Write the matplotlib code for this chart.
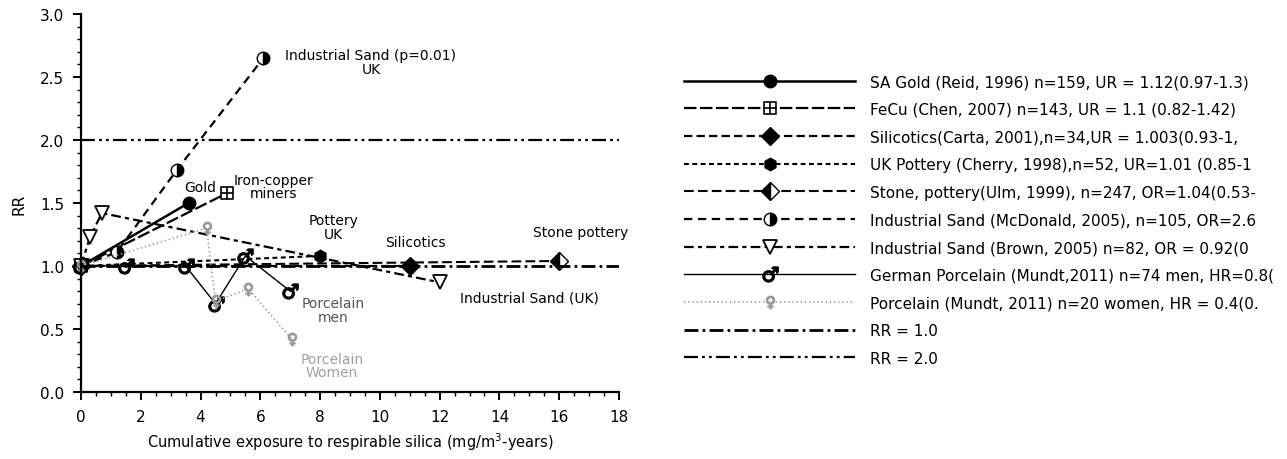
import matplotlib
matplotlib.use("Agg")
import matplotlib.pyplot as plt
from matplotlib.path import Path

plt.rcParams["font.family"] = ["DejaVu Sans"]
plt.rcParams["lines.scale_dashes"] = False

# Cumulative exposure (mg/m3-years) and relative risk for each cohort
gold_x = [0.0, 3.6]
gold_y = [1.0, 1.5]
fecu_x = [0.0, 4.9]
fecu_y = [1.0, 1.58]
silic_x = [0.0, 11.0]
silic_y = [1.0, 1.0]
pottery_x = [0.0, 8.0]
pottery_y = [1.0, 1.08]
stone_x = [0.0, 16.0]
stone_y = [1.0, 1.04]
mcd_x = [0.0, 1.2, 3.2, 6.1]
mcd_y = [1.0, 1.11, 1.76, 2.65]
brown_x = [0.0, 0.3, 0.7, 12.0]
brown_y = [1.0, 1.23, 1.42, 0.87]
men_x = [0.0, 1.5, 3.5, 4.5, 5.5, 7.0]
men_y = [1.0, 1.0, 1.0, 0.7, 1.08, 0.8]
women_x = [0.0, 4.2, 4.5, 5.6, 7.05]
women_y = [1.0, 1.3, 0.72, 0.82, 0.42]
rr_levels = [1.0, 2.0]

series_labels = [
    "SA Gold (Reid, 1996) n=159, UR = 1.12(0.97-1.3)",
    "FeCu (Chen, 2007) n=143, UR = 1.1 (0.82-1.42)",
    "Silicotics(Carta, 2001),n=34,UR = 1.003(0.93-1,",
    "UK Pottery (Cherry, 1998),n=52, UR=1.01 (0.85-1",
    "Stone, pottery(Ulm, 1999), n=247, OR=1.04(0.53-",
    "Industrial Sand (McDonald, 2005), n=105, OR=2.6",
    "Industrial Sand (Brown, 2005) n=82, OR = 0.92(0",
    "German Porcelain (Mundt,2011) n=74 men, HR=0.8(",
    "Porcelain (Mundt, 2011) n=20 women, HR = 0.4(0.",
    "RR = 1.0",
    "RR = 2.0",
]

x_ticks = [0, 2, 4, 6, 8, 10, 12, 14, 16, 18]
y_ticks = [0.0, 0.5, 1.0, 1.5, 2.0, 2.5, 3.0]

# square-with-cross marker
box_plus = Path(
    [(-1, -1), (1, -1), (1, 1), (-1, 1), (-1, -1),
     (0, -1), (0, 1), (-1, 0), (1, 0)],
    [Path.MOVETO, Path.LINETO, Path.LINETO, Path.LINETO, Path.CLOSEPOLY,
     Path.MOVETO, Path.LINETO, Path.MOVETO, Path.LINETO],
)

fig = plt.figure(figsize=(12.87, 4.60), dpi=100)
ax = fig.add_axes([81 / 1287, 1 - 393 / 460, 538 / 1287, 378 / 460])

common = dict(color="black", clip_on=False)
h = []
h += ax.plot(gold_x, gold_y, lw=1.8, marker="o", ms=9, mfc="black",
             label=series_labels[0], **common)
h += ax.plot(fecu_x, fecu_y, lw=1.6, ls=(0, (9, 2.5)), marker=box_plus,
             ms=9, mfc="white", mec="black", mew=1.2,
             label=series_labels[1], **common)
h += ax.plot(silic_x, silic_y, lw=1.6, ls=(0, (6, 3)), marker="D", ms=9,
             mfc="black", label=series_labels[2], **common)
h += ax.plot(pottery_x, pottery_y, lw=1.5, ls=(0, (3.5, 2.5)), marker="h",
             ms=9, mfc="black", label=series_labels[3], **common)
h += ax.plot(stone_x, stone_y, lw=1.5, ls=(0, (7, 3)), marker="D", ms=9,
             fillstyle="left", mfc="black", mfcalt="white", mec="black",
             label=series_labels[4], **common)
h += ax.plot(mcd_x, mcd_y, lw=1.6, ls=(0, (6, 4)), marker="o", ms=9,
             fillstyle="right", mfc="black", mfcalt="white", mec="black",
             label=series_labels[5], **common)
h += ax.plot(brown_x, brown_y, lw=1.6, ls=(0, (7, 3, 3, 3)), marker="v",
             ms=10, mfc="white", mec="black", mew=1.3,
             label=series_labels[6], **common)
h += ax.plot(men_x, men_y, lw=1.0, marker="$\u2642$", ms=11,
             label=series_labels[7], **common)
h += ax.plot(women_x, women_y, lw=1.2, ls=(0, (1, 2)), marker="$\u2640$",
             ms=9, label=series_labels[8], color="#9a9a9a", clip_on=False)

rr_styles = [dict(lw=2.0, ls=(0, (10, 3, 2, 3))),
             dict(lw=1.6, ls=(0, (10, 3, 2, 3, 2, 3)))]
for level, st, lab in zip(rr_levels, rr_styles, series_labels[9:]):
    h.append(ax.axhline(level, color="black", label=lab, **st))

ax.set_xlim(0, 18)
ax.set_ylim(0, 3.0)
ax.set_xticks(x_ticks)
ax.set_yticks(y_ticks)
ax.set_xticklabels([str(v) for v in x_ticks])
ax.set_yticklabels([f"{v:.1f}" for v in y_ticks])
ax.set_xticks([v / 2 for v in range(0, 37)], minor=True)
ax.set_yticks([v / 10 for v in range(0, 31)], minor=True)
ax.tick_params(which="major", direction="out", length=6, width=1.4,
               labelsize=11, pad=6)
ax.tick_params(which="minor", direction="out", length=3, width=1.0)
for side in ("top", "right"):
    ax.spines[side].set_visible(False)
for side in ("left", "bottom"):
    ax.spines[side].set_linewidth(1.6)

ax.set_ylabel("RR", fontsize=11, labelpad=10)
ax.set_xlabel("Cumulative exposure to respirable silica (mg/m$^3$-years)",
              fontsize=10.5, labelpad=5)

# annotations next to the curves
txt = dict(ha="center", va="center", fontsize=10)
ax.text(9.7, 2.62, "Industrial Sand (p=0.01)\nUK", linespacing=0.95, **txt)
ax.text(4.0, 1.63, "Gold", **txt)
ax.text(6.45, 1.63, "Iron-copper\nminers", linespacing=0.95, **txt)
ax.text(8.45, 1.31, "Pottery\nUK", linespacing=0.95, **txt)
ax.text(11.2, 1.19, "Silicotics", **txt)
ax.text(16.7, 1.27, "Stone pottery", **txt)
ax.text(15.0, 0.75, "Industrial Sand (UK)", **txt)
ax.text(8.45, 0.65, "Porcelain\nmen", linespacing=0.95, color="#555555", **txt)
ax.text(8.4, 0.21, "Porcelain\nWomen", linespacing=0.95, color="#a0a0a0", **txt)

fig.legend(handles=h, loc="upper left",
           bbox_to_anchor=(684 / 1287, 1 - 75 / 460),
           frameon=False, fontsize=11, handlelength=11.2,
           handletextpad=0.95, labelspacing=0.83, borderpad=0,
           borderaxespad=0, numpoints=1)

fig.savefig("out.png", dpi=100)
